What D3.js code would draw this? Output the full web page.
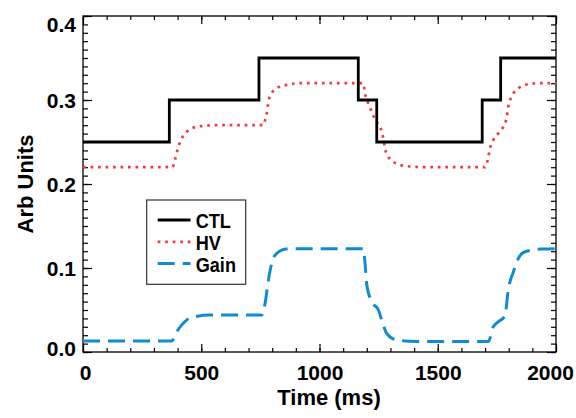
<!DOCTYPE html>
<html>
<head>
<meta charset="utf-8">
<script src="https://cdn.jsdelivr.net/npm/d3@7"></script>
<style>
  html, body { margin: 0; padding: 0; background: #fff; }
  svg { display: block; font-family: "Liberation Sans", Arial, Helvetica, sans-serif; font-weight: bold; }
</style>
</head>
<body>
<svg id="chart" width="576" height="418"></svg>
<script>
// Control signal (step levels, held until the next change)
const ctlTimes  = [0, 365, 744, 1164, 1242, 1688, 1766, 2000];
const ctlValues = [0.25, 0.30, 0.35, 0.30, 0.25, 0.30, 0.35, 0.35];

// HV response
const hvTimes  = [0, 378, 389, 403, 417, 438, 466, 502, 560, 762, 770, 777, 784, 798, 819, 861, 917,
                  1150, 1185, 1192, 1206, 1221, 1235, 1256, 1270, 1277, 1291, 1312, 1340, 1396, 1450,
                  1700, 1714, 1721, 1735, 1756, 1777, 1792, 1798, 1813, 1841, 1869, 1925, 2000];
const hvValues = [0.22, 0.22, 0.229, 0.244, 0.254, 0.262, 0.267, 0.269, 0.27, 0.27, 0.276, 0.284, 0.298, 0.308, 0.314, 0.318, 0.32,
                  0.32, 0.32, 0.308, 0.296, 0.286, 0.276, 0.268, 0.254, 0.2425, 0.2325, 0.2265, 0.2226, 0.2206, 0.22,
                  0.22, 0.2326, 0.2425, 0.2524, 0.2603, 0.268, 0.28, 0.292, 0.304, 0.314, 0.318, 0.32, 0.32];

// Gain
const gainTimes  = [0, 375, 396, 417, 438, 474, 537, 756, 770, 784, 798, 819, 861, 946,
                    1185, 1192, 1200, 1221, 1249, 1270, 1284, 1326, 1411,
                    1714, 1735, 1756, 1784, 1798, 1820, 1841, 1869, 1940, 2000];
const gainValues = [0.013, 0.013, 0.024, 0.032, 0.038, 0.042, 0.044, 0.044, 0.058, 0.0857, 0.1056, 0.1175, 0.1226, 0.123,
                    0.123, 0.1075, 0.08, 0.06, 0.05, 0.032, 0.0222, 0.0143, 0.0125,
                    0.0125, 0.0302, 0.036, 0.0429, 0.0738, 0.0956, 0.1115, 0.1194, 0.1226, 0.123];

// Axis ticks
const xMajorTicks = [0, 500, 1000, 1500, 2000];
const xMinorTicks = d3.range(0, 2001, 100);
const yMajorTicks = [0.0, 0.1, 0.2, 0.3, 0.4];
const yMinorTicks = d3.range(0, 41).map(i => i / 100);

const legendNames = ["CTL", "HV", "Gain"];

const svg = d3.select("#chart");
const plot = { left: 83, right: 556, top: 16, bottom: 352 };

const x = d3.scaleLinear().domain([0, 2000]).range([plot.left, plot.right]);
const y = d3.scaleLinear().domain([0, 0.4]).range([plot.bottom, plot.top]);

const fontSize = 21;

function styleAxis(g) {
  g.select(".domain").remove();
  g.selectAll(".tick line").attr("stroke", "#000").attr("stroke-width", 1.2);
}

// Minor ticks on all four sides
svg.append("g").attr("transform", `translate(0,${plot.bottom})`)
  .call(d3.axisBottom(x).tickValues(xMinorTicks).tickSize(-4).tickFormat(""))
  .call(styleAxis);
svg.append("g").attr("transform", `translate(0,${plot.top})`)
  .call(d3.axisTop(x).tickValues(xMinorTicks).tickSize(-4).tickFormat(""))
  .call(styleAxis);
svg.append("g").attr("transform", `translate(${plot.left},0)`)
  .call(d3.axisLeft(y).tickValues(yMinorTicks).tickSize(-5).tickFormat(""))
  .call(styleAxis);
svg.append("g").attr("transform", `translate(${plot.right},0)`)
  .call(d3.axisRight(y).tickValues(yMinorTicks).tickSize(-5).tickFormat(""))
  .call(styleAxis);

// Major ticks, labelled on the bottom and left
const xAxis = svg.append("g").attr("transform", `translate(0,${plot.bottom})`)
  .call(d3.axisBottom(x).tickValues(xMajorTicks).tickSize(-8).tickPadding(13).tickFormat(d3.format("d")))
  .call(styleAxis);
xAxis.selectAll("text").attr("fill", "#000").attr("font-size", fontSize).attr("font-weight", "bold")
  .attr("font-family", "'Liberation Sans', Arial, sans-serif")
  .attr("dx", d => d === 2000 ? -6 : (d === 0 ? 2 : 0));

svg.append("g").attr("transform", `translate(0,${plot.top})`)
  .call(d3.axisTop(x).tickValues(xMajorTicks).tickSize(-8).tickFormat(""))
  .call(styleAxis);

const yAxis = svg.append("g").attr("transform", `translate(${plot.left},0)`)
  .call(d3.axisLeft(y).tickValues(yMajorTicks).tickSize(-9).tickPadding(7).tickFormat(d3.format(".1f")))
  .call(styleAxis);
yAxis.selectAll("text").attr("fill", "#000").attr("font-size", fontSize).attr("font-weight", "bold")
  .attr("font-family", "'Liberation Sans', Arial, sans-serif")
  .attr("dy", null)
  .attr("y", d => d === 0.4 ? 15.7 : (d === 0 ? 3 : 7.5));

svg.append("g").attr("transform", `translate(${plot.right},0)`)
  .call(d3.axisRight(y).tickValues(yMajorTicks).tickSize(-9).tickFormat(""))
  .call(styleAxis);

// Plot frame
svg.append("rect")
  .attr("x", plot.left).attr("y", plot.top)
  .attr("width", plot.right - plot.left).attr("height", plot.bottom - plot.top)
  .attr("fill", "none").attr("stroke", "#000").attr("stroke-width", 1.3);

// Series
const styles = {
  CTL:  { stroke: "#000000", width: 2.8, dash: null },
  HV:   { stroke: "#f63a3a", width: 2.7, dash: "2.7 4.8" },
  Gain: { stroke: "#0f8bd0", width: 3.0, dash: "17 8" }
};

const ctlData  = ctlTimes.map((t, i) => [t, ctlValues[i]]);
const hvData   = hvTimes.map((t, i) => [t, hvValues[i]]);
const gainData = gainTimes.map((t, i) => [t, gainValues[i]]);

const stepLine = d3.line().x(d => x(d[0])).y(d => y(d[1])).curve(d3.curveStepAfter);
const smoothLine = d3.line().x(d => x(d[0])).y(d => y(d[1])).curve(d3.curveMonotoneX);

function drawSeries(data, gen, st) {
  svg.append("path").datum(data)
    .attr("d", gen)
    .attr("fill", "none")
    .attr("stroke", st.stroke)
    .attr("stroke-width", st.width)
    .attr("stroke-dasharray", st.dash)
    .attr("stroke-linejoin", "miter");
}
drawSeries(gainData, smoothLine, styles.Gain);
drawSeries(hvData, smoothLine, styles.HV);
drawSeries(ctlData, stepLine, styles.CTL);

// Legend
const legend = svg.append("g");
legend.append("rect")
  .attr("x", 146.7).attr("y", 200).attr("width", 99).attr("height", 84.3)
  .attr("fill", "#fff").attr("stroke", "#333").attr("stroke-width", 1.2);
legendNames.forEach((name, i) => {
  const ly = 220 + i * 21.8;
  const st = styles[name];
  legend.append("line")
    .attr("x1", 157.7).attr("x2", 190.5).attr("y1", ly).attr("y2", ly)
    .attr("stroke", st.stroke).attr("stroke-width", st.width)
    .attr("stroke-dasharray", st.dash);
  legend.append("text")
    .attr("transform", `translate(195.7,${ly + 8}) scale(0.93,1)`)
    .attr("font-size", 19.5).attr("fill", "#000")
    .text(name);
});

// Axis titles
svg.append("text")
  .attr("x", 329).attr("y", 405)
  .attr("text-anchor", "middle").attr("font-size", 22).attr("fill", "#000")
  .text("Time (ms)");

svg.append("text")
  .attr("transform", `translate(33,${(plot.top + plot.bottom) / 2}) rotate(-90)`)
  .attr("text-anchor", "middle").attr("font-size", 22).attr("fill", "#000")
  .text("Arb Units");
</script>
</body>
</html>
